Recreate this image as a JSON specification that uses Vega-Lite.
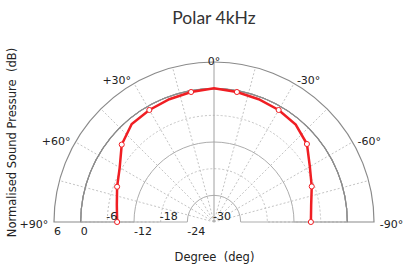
{
  "$schema": "https://vega.github.io/schema/vega-lite/v6.json",
  "autosize": "none",
  "width": 320,
  "height": 160,
  "padding": {"left": 54, "top": 62, "right": 30, "bottom": 43},
  "background": "white",
  "title": {"text": "Polar 4kHz", "font": "Lato", "fontSize": 17.5, "fontWeight": "normal", "color": "#333", "offset": 20},
  "config": {
    "view": {"stroke": null},
    "axisX": {"domain": false, "ticks": false, "labels": false, "grid": false, "titlePadding": 29, "titleFont": "DejaVu Sans", "titleFontSize": 11.5, "titleFontWeight": "normal", "titleColor": "#222"},
    "axisY": {"domain": false, "ticks": false, "labels": false, "grid": false, "titlePadding": 37, "titleFont": "DejaVu Sans", "titleFontSize": 11.5, "titleFontWeight": "normal", "titleColor": "#222"}
  },
  "datasets": {
    "resp": [
      {"a": 90, "db": -8.2, "m": 1},
      {"a": 80, "db": -7.8, "m": 0},
      {"a": 70, "db": -6.8, "m": 1},
      {"a": 60, "db": -5.5, "m": 0},
      {"a": 50, "db": -2.9, "m": 1},
      {"a": 40, "db": -1.2, "m": 0},
      {"a": 30, "db": -0.9, "m": 1},
      {"a": 20, "db": -0.6, "m": 0},
      {"a": 10, "db": -0.3, "m": 1},
      {"a": 0, "db": 0.1, "m": 0},
      {"a": -10, "db": -0.3, "m": 1},
      {"a": -20, "db": -0.6, "m": 0},
      {"a": -30, "db": -0.9, "m": 1},
      {"a": -40, "db": -1.4, "m": 0},
      {"a": -50, "db": -2.7, "m": 1},
      {"a": -60, "db": -5.1, "m": 0},
      {"a": -70, "db": -6.6, "m": 1},
      {"a": -80, "db": -7.8, "m": 0},
      {"a": -90, "db": -8.2, "m": 1}
    ],
    "spokes": [
      {"a": 75, "style": "dot"}, {"a": 60, "style": "dot"}, {"a": 45, "style": "dot"}, {"a": 30, "style": "dot"}, {"a": 15, "style": "dot"},
      {"a": 0, "style": "solid"},
      {"a": -15, "style": "dot"}, {"a": -30, "style": "dot"}, {"a": -45, "style": "dot"}, {"a": -60, "style": "dot"}, {"a": -75, "style": "dot"}
    ],
    "rings": [
      {"v": 6, "style": "outer"},
      {"v": 0, "style": "solid"},
      {"v": -6, "style": "dot"},
      {"v": -12, "style": "solid"},
      {"v": -18, "style": "dot"},
      {"v": -24, "style": "solid"}
    ],
    "angleLabels": [
      {"lab": "+90°", "a": 90},
      {"lab": "+60°", "a": 60},
      {"lab": "+30°", "a": 30},
      {"lab": "0°", "a": 0},
      {"lab": "-30°", "a": -30},
      {"lab": "-60°", "a": -60},
      {"lab": "-90°", "a": -90}
    ],
    "dbLabels": [
      {"v": 6, "pos": "below"},
      {"v": 0, "pos": "below"},
      {"v": -6, "pos": "above"},
      {"v": -12, "pos": "below"},
      {"v": -18, "pos": "above"},
      {"v": -24, "pos": "below"},
      {"v": -30, "pos": "above"}
    ]
  },
  "layer": [
    {
      "data": {"name": "spokes"},
      "transform": [
        {"filter": "datum.style == 'dot'"},
        {"calculate": "0", "as": "cx"},
        {"calculate": "0", "as": "cy"},
        {"calculate": "-36*sin(datum.a*PI/180)", "as": "sx"},
        {"calculate": "36*cos(datum.a*PI/180)", "as": "sy"}
      ],
      "mark": {"type": "rule", "color": "#c4c4c4", "strokeWidth": 1, "strokeDash": [2, 2]},
      "encoding": {
        "x": {"field": "cx", "type": "quantitative", "scale": {"domain": [-36, 36], "nice": false, "zero": false}, "axis": {"title": "Degree \u00a0(deg)"}},
        "y": {"field": "cy", "type": "quantitative", "scale": {"domain": [0, 36], "nice": false, "zero": false}, "axis": {"title": "Normalised Sound Pressure \u00a0(dB)"}},
        "x2": {"field": "sx"},
        "y2": {"field": "sy"}
      }
    },
    {
      "data": {"name": "rings"},
      "transform": [
        {"filter": "datum.style == 'dot'"},
        {"calculate": "-90", "as": "t1"},
        {"calculate": "90", "as": "t2"}
      ],
      "mark": {"type": "arc", "filled": false, "stroke": "#c4c4c4", "strokeWidth": 1, "strokeDash": [2, 2], "x": {"expr": "width/2"}, "y": {"expr": "height"}},
      "encoding": {
        "theta": {"field": "t1", "type": "quantitative", "stack": null, "scale": {"domain": [-90, 90], "range": [-1.5707963, 1.5707963], "zero": false, "nice": false}},
        "theta2": {"field": "t2"},
        "radius": {"field": "v", "type": "quantitative", "stack": null, "scale": {"type": "linear", "domain": [-30, 6], "range": [0, 160], "zero": false, "nice": false}}
      }
    },
    {
      "data": {"name": "rings"},
      "transform": [
        {"filter": "datum.style == 'solid'"},
        {"calculate": "-90", "as": "t1"},
        {"calculate": "90", "as": "t2"}
      ],
      "mark": {"type": "arc", "filled": false, "stroke": "#adadad", "strokeWidth": 1, "x": {"expr": "width/2"}, "y": {"expr": "height"}},
      "encoding": {
        "theta": {"field": "t1", "type": "quantitative", "stack": null, "scale": {"domain": [-90, 90], "range": [-1.5707963, 1.5707963], "zero": false, "nice": false}},
        "theta2": {"field": "t2"},
        "radius": {"field": "v", "type": "quantitative", "stack": null, "scale": {"type": "linear", "domain": [-30, 6], "range": [0, 160], "zero": false, "nice": false}}
      }
    },
    {
      "data": {"name": "rings"},
      "transform": [
        {"filter": "datum.style == 'outer'"},
        {"calculate": "-90", "as": "t1"},
        {"calculate": "90", "as": "t2"}
      ],
      "mark": {"type": "arc", "filled": false, "stroke": "#8a8a8a", "strokeWidth": 1.2, "x": {"expr": "width/2"}, "y": {"expr": "height"}},
      "encoding": {
        "theta": {"field": "t1", "type": "quantitative", "stack": null, "scale": {"domain": [-90, 90], "range": [-1.5707963, 1.5707963], "zero": false, "nice": false}},
        "theta2": {"field": "t2"},
        "radius": {"field": "v", "type": "quantitative", "stack": null, "scale": {"type": "linear", "domain": [-30, 6], "range": [0, 160], "zero": false, "nice": false}}
      }
    },
    {
      "data": {"name": "spokes"},
      "transform": [
        {"filter": "datum.style == 'solid'"},
        {"calculate": "0", "as": "cx"},
        {"calculate": "0", "as": "cy"},
        {"calculate": "-36*sin(datum.a*PI/180)", "as": "sx"},
        {"calculate": "36*cos(datum.a*PI/180)", "as": "sy"}
      ],
      "mark": {"type": "rule", "color": "#a0a0a0", "strokeWidth": 1},
      "encoding": {
        "x": {"field": "cx", "type": "quantitative", "scale": {"domain": [-36, 36], "nice": false, "zero": false}, "axis": {"title": "Degree \u00a0(deg)"}},
        "y": {"field": "cy", "type": "quantitative", "scale": {"domain": [0, 36], "nice": false, "zero": false}, "axis": {"title": "Normalised Sound Pressure \u00a0(dB)"}},
        "x2": {"field": "sx"},
        "y2": {"field": "sy"}
      }
    },
    {
      "data": {"name": "resp"},
      "transform": [
        {"calculate": "-(datum.db+30)*sin(datum.a*PI/180)", "as": "px"},
        {"calculate": "(datum.db+30)*cos(datum.a*PI/180)", "as": "py"}
      ],
      "mark": {"type": "line", "color": "#f01e23", "strokeWidth": 2.5},
      "encoding": {
        "x": {"field": "px", "type": "quantitative", "scale": {"domain": [-36, 36], "nice": false, "zero": false}, "axis": {"title": "Degree \u00a0(deg)"}},
        "y": {"field": "py", "type": "quantitative", "scale": {"domain": [0, 36], "nice": false, "zero": false}, "axis": {"title": "Normalised Sound Pressure \u00a0(dB)"}},
        "order": {"field": "a", "type": "quantitative", "sort": "descending"}
      }
    },
    {
      "data": {"name": "resp"},
      "transform": [
        {"filter": "datum.m == 1"},
        {"calculate": "-(datum.db+30)*sin(datum.a*PI/180)", "as": "px"},
        {"calculate": "(datum.db+30)*cos(datum.a*PI/180)", "as": "py"}
      ],
      "mark": {"type": "point", "filled": true, "fill": "white", "stroke": "#f01e23", "strokeWidth": 1, "size": 26, "opacity": 1},
      "encoding": {
        "x": {"field": "px", "type": "quantitative", "scale": {"domain": [-36, 36], "nice": false, "zero": false}, "axis": {"title": "Degree \u00a0(deg)"}},
        "y": {"field": "py", "type": "quantitative", "scale": {"domain": [0, 36], "nice": false, "zero": false}, "axis": {"title": "Normalised Sound Pressure \u00a0(dB)"}}
      }
    },
    {
      "data": {"name": "angleLabels"},
      "transform": [
        {"filter": "datum.a > 0"},
        {"calculate": "-37.3*sin(datum.a*PI/180)", "as": "lx"},
        {"calculate": "37.3*cos(datum.a*PI/180)", "as": "ly"}
      ],
      "mark": {"type": "text", "align": "right", "baseline": "middle", "dy": 3, "font": "DejaVu Sans", "fontSize": 11, "color": "#222"},
      "encoding": {
        "x": {"field": "lx", "type": "quantitative", "scale": {"domain": [-36, 36], "nice": false, "zero": false}, "axis": {"title": "Degree \u00a0(deg)"}},
        "y": {"field": "ly", "type": "quantitative", "scale": {"domain": [0, 36], "nice": false, "zero": false}, "axis": {"title": "Normalised Sound Pressure \u00a0(dB)"}},
        "text": {"field": "lab", "type": "nominal"}
      }
    },
    {
      "data": {"name": "angleLabels"},
      "transform": [
        {"filter": "datum.a < 0"},
        {"calculate": "-37.3*sin(datum.a*PI/180)", "as": "lx"},
        {"calculate": "37.3*cos(datum.a*PI/180)", "as": "ly"}
      ],
      "mark": {"type": "text", "align": "left", "baseline": "middle", "dy": 3, "font": "DejaVu Sans", "fontSize": 11, "color": "#222"},
      "encoding": {
        "x": {"field": "lx", "type": "quantitative", "scale": {"domain": [-36, 36], "nice": false, "zero": false}, "axis": {"title": "Degree \u00a0(deg)"}},
        "y": {"field": "ly", "type": "quantitative", "scale": {"domain": [0, 36], "nice": false, "zero": false}, "axis": {"title": "Normalised Sound Pressure \u00a0(dB)"}},
        "text": {"field": "lab", "type": "nominal"}
      }
    },
    {
      "data": {"name": "angleLabels"},
      "transform": [
        {"filter": "datum.a == 0"},
        {"calculate": "0", "as": "lx"},
        {"calculate": "37", "as": "ly"}
      ],
      "mark": {"type": "text", "align": "center", "baseline": "middle", "dy": 4, "font": "DejaVu Sans", "fontSize": 11, "color": "#222"},
      "encoding": {
        "x": {"field": "lx", "type": "quantitative", "scale": {"domain": [-36, 36], "nice": false, "zero": false}, "axis": {"title": "Degree \u00a0(deg)"}},
        "y": {"field": "ly", "type": "quantitative", "scale": {"domain": [0, 36], "nice": false, "zero": false}, "axis": {"title": "Normalised Sound Pressure \u00a0(dB)"}},
        "text": {"field": "lab", "type": "nominal"}
      }
    },
    {
      "data": {"name": "dbLabels"},
      "transform": [
        {"filter": "datum.pos == 'below'"},
        {"calculate": "-(datum.v+30)", "as": "lx"},
        {"calculate": "0", "as": "ly"}
      ],
      "mark": {"type": "text", "align": "left", "baseline": "top", "dy": 4, "font": "DejaVu Sans", "fontSize": 11, "color": "#222"},
      "encoding": {
        "x": {"field": "lx", "type": "quantitative", "scale": {"domain": [-36, 36], "nice": false, "zero": false}, "axis": {"title": "Degree \u00a0(deg)"}},
        "y": {"field": "ly", "type": "quantitative", "scale": {"domain": [0, 36], "nice": false, "zero": false}, "axis": {"title": "Normalised Sound Pressure \u00a0(dB)"}},
        "text": {"field": "v", "type": "nominal"}
      }
    },
    {
      "data": {"name": "dbLabels"},
      "transform": [
        {"filter": "datum.pos == 'above'"},
        {"calculate": "-(datum.v+30)", "as": "lx"},
        {"calculate": "0", "as": "ly"}
      ],
      "mark": {"type": "text", "align": "left", "baseline": "bottom", "dx": -1, "font": "DejaVu Sans", "fontSize": 11, "color": "#222"},
      "encoding": {
        "x": {"field": "lx", "type": "quantitative", "scale": {"domain": [-36, 36], "nice": false, "zero": false}, "axis": {"title": "Degree \u00a0(deg)"}},
        "y": {"field": "ly", "type": "quantitative", "scale": {"domain": [0, 36], "nice": false, "zero": false}, "axis": {"title": "Normalised Sound Pressure \u00a0(dB)"}},
        "text": {"field": "v", "type": "nominal"}
      }
    }
  ]
}
